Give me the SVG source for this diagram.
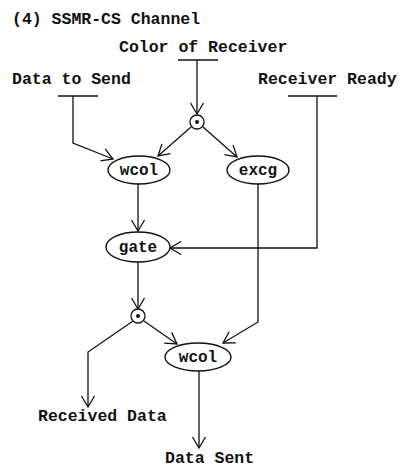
<svg xmlns="http://www.w3.org/2000/svg" width="404" height="468" viewBox="0 0 404 468">
  <style>
    .lbl { font-family: "Liberation Mono", "Courier New", monospace; font-weight: bold; font-size: 16.5px; fill: #111; }
    .node ellipse { fill: #fff; stroke: #111; stroke-width: 1.4; }
    .node text { font-family: "Liberation Mono", "Courier New", monospace; font-weight: bold; font-size: 16px; fill: #111; text-anchor: middle; }
    .join circle.ring { fill: #fff; stroke: #111; stroke-width: 1.3; }
    .join circle.dot { fill: #111; }
    .edges path, .edges line { fill: none; stroke: #111; stroke-width: 1.3; }
    .bar { stroke: #111; stroke-width: 1.3; }
  </style>
  <defs>
    <marker id="vee" markerUnits="userSpaceOnUse" markerWidth="16" markerHeight="16" viewBox="-12 -8 14 16" refX="0" refY="0" orient="auto">
      <path d="M-11,-6.5 L0,0 L-11,6.5" fill="none" stroke="#111" stroke-width="1.3"/>
    </marker>
  </defs>

  <rect width="404" height="468" fill="#fff"/>

  <text class="lbl" x="12" y="24">(4) SSMR-CS Channel</text>

  <!-- external inputs and outputs -->
  <g id="in-color">
    <text class="lbl" x="119" y="52">Color of Receiver</text>
    <line class="bar" x1="178" y1="60" x2="218" y2="60"/>
  </g>
  <g id="in-data">
    <text class="lbl" x="12" y="84">Data to Send</text>
    <line class="bar" x1="58" y1="96" x2="98" y2="96"/>
  </g>
  <g id="in-ready">
    <text class="lbl" x="258" y="84">Receiver Ready</text>
    <line class="bar" x1="288" y1="96" x2="337" y2="96"/>
  </g>
  <g id="out-received">
    <text class="lbl" x="38" y="421">Received Data</text>
  </g>
  <g id="out-sent">
    <text class="lbl" x="165" y="463">Data Sent</text>
  </g>

  <!-- connectors -->
  <g class="edges">
    <line x1="197" y1="60" x2="197" y2="114" marker-end="url(#vee)"/>
    <path d="M73,96 L73,143 L113,159" marker-end="url(#vee)"/>
    <line x1="191" y1="127" x2="158" y2="156" marker-end="url(#vee)"/>
    <line x1="203" y1="127" x2="237" y2="157" marker-end="url(#vee)"/>
    <line x1="138" y1="184" x2="138" y2="231" marker-end="url(#vee)"/>
    <path d="M317,96 L317,248 L170,248" marker-end="url(#vee)"/>
    <path d="M258,184 L258,322 L223,343" marker-end="url(#vee)"/>
    <line x1="138" y1="262" x2="138" y2="309" marker-end="url(#vee)"/>
    <line x1="144" y1="321" x2="177" y2="344" marker-end="url(#vee)"/>
    <path d="M133,321 L88,352 L88,407" marker-end="url(#vee)"/>
    <line x1="199" y1="371" x2="199" y2="448" marker-end="url(#vee)"/>
  </g>

  <!-- junctions -->
  <g id="join-top" class="join">
    <circle class="ring" cx="197" cy="122" r="7"/>
    <circle class="dot" cx="197" cy="122" r="2"/>
  </g>
  <g id="join-bottom" class="join">
    <circle class="ring" cx="138" cy="316" r="7"/>
    <circle class="dot" cx="138" cy="316" r="2"/>
  </g>

  <!-- process nodes -->
  <g id="wcol-1" class="node">
    <ellipse cx="139" cy="170" rx="31" ry="14"/>
    <text x="139" y="175">wcol</text>
  </g>
  <g id="excg" class="node">
    <ellipse cx="258" cy="170" rx="31" ry="14"/>
    <text x="258" y="175">excg</text>
  </g>
  <g id="gate" class="node">
    <ellipse cx="138" cy="247" rx="32" ry="15"/>
    <text x="138" y="252">gate</text>
  </g>
  <g id="wcol-2" class="node">
    <ellipse cx="198" cy="357" rx="33" ry="14"/>
    <text x="198" y="362">wcol</text>
  </g>
</svg>
